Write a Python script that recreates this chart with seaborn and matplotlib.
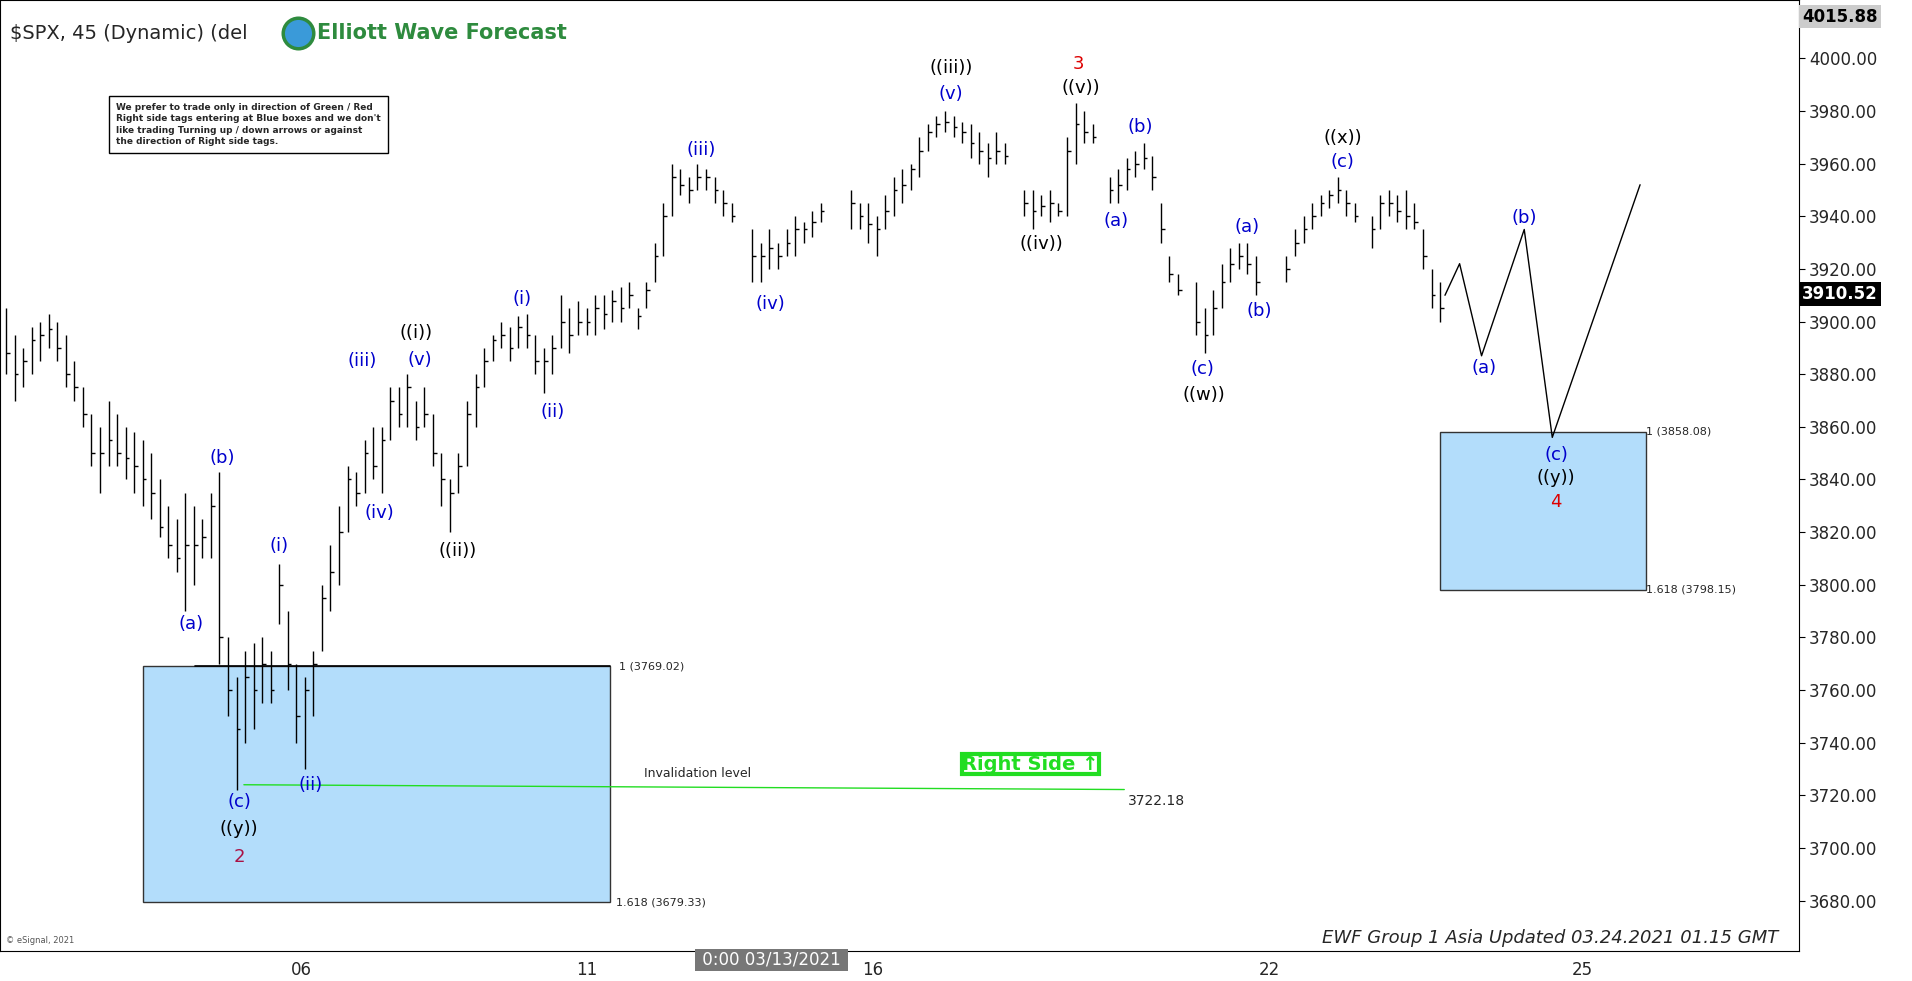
import matplotlib
matplotlib.use("Agg")
import matplotlib.pyplot as plt
import seaborn as sns
import pandas as pd
from matplotlib.patches import Rectangle

sns.set_style("white")
plt.rcParams['font.family'] = ['DejaVu Sans']

bar_x = [5,12,19,26,33,40,47,54,61,68,75,82,89,96,103,110,117,124,131,138,145,152,159,166,173,180,187,194,201,208,215,222,229,236,243,250,257,264,271,278,285,292,299,306,313,320,327,334,341,348,355,362,369,376,383,390,397,404,411,418,425,432,439,446,453,460,467,474,481,488,495,502,509,516,523,530,537,544,551,558,565,572,579,586,593,600,617,624,631,638,645,652,659,666,673,698,705,712,719,726,733,740,747,754,761,768,775,782,789,796,803,810,817,824,840,847,854,861,868,875,882,889,896,910,917,924,931,938,945,952,959,966,981,988,995,1002,1009,1016,1023,1030,1055,1062,1069,1076,1083,1090,1097,1104,1111,1125,1132,1139,1146,1153,1160,1167,1174,1181]
bar_hi = [3905,3895,3890,3898,3900,3903,3900,3895,3885,3875,3865,3860,3870,3865,3860,3858,3855,3850,3840,3830,3825,3835,3830,3825,3835,3843,3780,3765,3775,3778,3780,3775,3808,3790,3770,3765,3775,3800,3815,3830,3845,3843,3855,3860,3860,3875,3875,3880,3870,3875,3865,3850,3840,3850,3870,3880,3890,3895,3900,3898,3902,3903,3895,3890,3895,3910,3905,3908,3905,3910,3910,3912,3913,3915,3905,3915,3930,3945,3960,3958,3955,3960,3958,3955,3950,3945,3935,3930,3935,3930,3935,3940,3938,3942,3945,3950,3945,3945,3940,3948,3955,3958,3960,3970,3975,3978,3980,3978,3976,3975,3972,3968,3972,3968,3950,3950,3948,3950,3945,3970,3983,3980,3975,3955,3958,3962,3965,3968,3963,3945,3925,3918,3915,3905,3912,3922,3928,3930,3930,3925,3925,3935,3940,3945,3948,3950,3955,3950,3945,3940,3948,3950,3948,3950,3945,3935,3920,3915]
bar_lo = [3880,3870,3875,3880,3885,3890,3885,3875,3870,3860,3845,3835,3845,3845,3840,3835,3830,3825,3818,3810,3805,3790,3800,3810,3810,3770,3750,3722,3740,3745,3755,3755,3785,3760,3740,3730,3750,3775,3790,3800,3820,3830,3835,3840,3835,3855,3860,3860,3855,3860,3845,3830,3820,3835,3845,3860,3875,3885,3890,3885,3890,3890,3880,3873,3880,3890,3888,3895,3895,3895,3897,3900,3900,3905,3897,3905,3915,3925,3940,3948,3945,3950,3950,3945,3940,3938,3915,3915,3920,3920,3925,3925,3930,3932,3938,3935,3935,3930,3925,3935,3940,3945,3950,3955,3965,3970,3972,3970,3968,3962,3960,3955,3960,3960,3940,3935,3940,3938,3940,3940,3960,3968,3968,3945,3945,3950,3955,3958,3950,3930,3915,3910,3895,3888,3895,3905,3915,3920,3918,3910,3915,3925,3930,3935,3940,3943,3945,3940,3938,3928,3935,3940,3938,3935,3935,3920,3905,3900]
bar_close = [3888,3880,3885,3893,3895,3897,3890,3880,3875,3865,3850,3850,3855,3850,3848,3845,3840,3835,3822,3815,3810,3815,3815,3818,3830,3780,3760,3745,3765,3760,3770,3760,3800,3770,3750,3760,3770,3795,3805,3820,3840,3835,3850,3845,3855,3870,3865,3875,3860,3865,3850,3840,3835,3845,3865,3875,3885,3893,3895,3890,3898,3895,3885,3885,3890,3900,3895,3900,3900,3905,3903,3908,3905,3910,3902,3912,3925,3940,3955,3952,3950,3955,3955,3950,3945,3940,3925,3925,3928,3925,3930,3935,3935,3938,3942,3945,3940,3937,3935,3942,3950,3952,3958,3965,3972,3975,3976,3974,3972,3968,3965,3962,3965,3963,3945,3942,3944,3945,3942,3965,3975,3972,3970,3950,3952,3958,3960,3962,3955,3935,3918,3912,3900,3895,3905,3915,3922,3925,3922,3915,3920,3930,3935,3940,3945,3948,3950,3945,3940,3935,3945,3945,3942,3940,3938,3925,3910,3905]

proj_x = [1185,1197,1215,1250,1273,1345]
proj_y = [3910,3922,3887,3935,3856,3952]

tick_pos = [247,481,716,1041,1298]
tick_lab = ["06","11","16","22","25"]
price_ticks = [3680,3700,3720,3740,3760,3780,3800,3820,3840,3860,3880,3900,3920,3940,3960,3980,4000]

W, H = 1568, 805
fig = plt.figure(figsize=(19.12, 9.81), dpi=100)
ax = fig.add_axes([0, 25/H, 1475/W, 1-25/H])
ax.set_xlim(0, 1475)
ax.set_ylim(3661.0, 4022.2)

def P(xp, yp):
    return xp, 3680 + (739 - yp) / 2.16

ax.add_patch(Rectangle((117, 3679.33), 383, 3769.02-3679.33, fc="#b3ddfb", ec="#333333", lw=1, zorder=1))
ax.add_patch(Rectangle((1181, 3798.15), 169, 3858.08-3798.15, fc="#b3ddfb", ec="#333333", lw=1, zorder=1))
ax.plot([160, 500], [3769.02, 3769.02], color="black", lw=1.2, zorder=2)
ax.text(508, 3769.02, "1 (3769.02)", fontsize=8, va="center")
ax.text(505, 3679.33, "1.618 (3679.33)", fontsize=8, va="center")
ax.text(1350, 3858.08, "1 (3858.08)", fontsize=8, va="center")
ax.text(1350, 3798.15, "1.618 (3798.15)", fontsize=8, va="center")

ax.plot([200, 922], [3724, 3722.18], color="#22dd22", lw=1, zorder=2)
ax.text(528, 3727, "Invalidation level", fontsize=9)
ax.text(925, 3718, "3722.18", fontsize=10, va="center")

ax.vlines(bar_x, bar_lo, bar_hi, color="black", lw=1, zorder=3)
ax.hlines(bar_close, bar_x, [x+3 for x in bar_x], color="black", lw=1, zorder=3)

df = pd.DataFrame({"x": proj_x, "y": proj_y})
sns.lineplot(data=df, x="x", y="y", ax=ax, color="black", lw=1, zorder=3)

blue = "#0000cc"
labels = [
    (157,512,"(a)",blue),(182,376,"(b)",blue),(196,658,"(c)",blue),(196,680,"((y))","black"),(196,703,"2","#aa1144"),
    (229,448,"(i)",blue),(255,644,"(ii)",blue),(297,296,"(iii)",blue),(311,421,"(iv)",blue),(344,295,"(v)",blue),
    (341,273,"((i))","black"),(375,452,"((ii))","black"),(428,245,"(i)",blue),(453,338,"(ii)",blue),
    (575,123,"(iii)",blue),(632,249,"(iv)",blue),(780,77,"(v)",blue),(780,56,"((iii))","black"),
    (884,52,"3","#dd0000"),(886,72,"((v))","black"),(854,200,"((iv))","black"),(935,104,"(b)",blue),
    (915,181,"(a)",blue),(986,303,"(c)",blue),(987,324,"((w))","black"),(1023,186,"(a)",blue),(1033,255,"(b)",blue),
    (1101,113,"((x))","black"),(1101,133,"(c)",blue),(1217,302,"(a)",blue),(1250,179,"(b)",blue),
    (1276,373,"(c)",blue),(1276,392,"((y))","black"),(1276,412,"4","#dd0000"),
]
for xp, yp, t, c in labels:
    ax.text(*P(xp, yp), t, color=c, fontsize=13, ha="center", va="center", zorder=5)

ax.text(*P(845, 627), "Right Side \u2191", color="#22dd22", fontsize=14, fontweight="bold",
        ha="center", va="center", bbox=dict(fc="white", ec="#22dd22", lw=3, pad=0.45))

ax.text(*P(95, 102), "We prefer to trade only in direction of Green / Red\nRight side tags entering at Blue boxes and we don't\n"
        "like trading Turning up / down arrows or against\nthe direction of Right side tags.",
        fontsize=6.5, fontweight="bold", va="center", ha="left", linespacing=1.3,
        bbox=dict(fc="white", ec="black", lw=1, pad=5))

ax.text(*P(8, 27), "$SPX, 45 (Dynamic) (del", fontsize=14, va="center")
ax.plot(*P(244, 27), marker="o", ms=22, mfc="#3a9ad9", mec="#2e8b3e", mew=2.5, zorder=4)
ax.text(*P(260, 27), "Elliott Wave Forecast", fontsize=15, fontweight="bold", color="#2e8b3e", va="center")
ax.text(*P(1458, 770), "EWF Group 1 Asia Updated 03.24.2021 01.15 GMT", fontsize=13, style="italic",
        ha="right", va="center")
ax.text(*P(5, 772), "© eSignal, 2021", fontsize=6, va="center", color="#555555")

ax.set_xticks(tick_pos)
ax.set_xticklabels(tick_lab, fontsize=12)
ax.yaxis.tick_right()
ax.set_yticks(price_ticks)
ax.set_yticklabels([f"{v:.2f}" for v in price_ticks], fontsize=12)
ax.tick_params(axis="both", length=4, color="black")
ax.set_xlabel(""); ax.set_ylabel("")
for s in ax.spines.values():
    s.set_color("black")
ax.text(633, 3661.0, " 0:00 03/13/2021 ", fontsize=12, color="white",
        ha="center", va="top", bbox=dict(fc="#777777", ec="none", pad=1.5), clip_on=False)
ax.text(1478, 4015.88, "4015.88", fontsize=12, fontweight="bold", color="black", va="center", ha="left",
        bbox=dict(fc="#cccccc", ec="none", pad=2), clip_on=False)
ax.text(1478, 3910.52, "3910.52", fontsize=12, fontweight="bold", color="white", va="center", ha="left",
        bbox=dict(fc="black", ec="none", pad=2), clip_on=False)

fig.savefig("out.png", dpi=100)
